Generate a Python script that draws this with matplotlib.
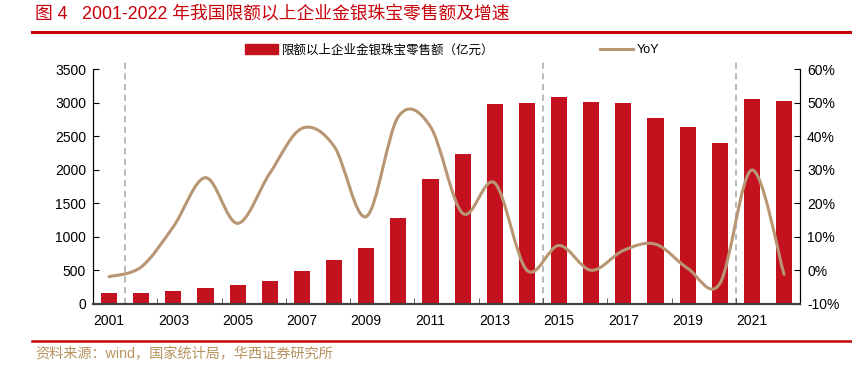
import matplotlib
matplotlib.use("Agg")
import matplotlib.pyplot as plt
from matplotlib.path import Path
from matplotlib.patches import PathPatch, Patch
from matplotlib.lines import Line2D
from matplotlib.ticker import FuncFormatter, FixedLocator
import numpy as np

plt.rcParams['font.family'] = ['Liberation Sans', 'Noto Sans CJK SC', 'DejaVu Sans']

# data
years = list(range(2001, 2023))
sales = [168, 165, 188, 236, 276, 345, 490, 650, 830, 1280, 1855, 2237,
         2972, 2988, 3076, 3006, 2988, 2774, 2630, 2397, 3057, 3026]
yoy = [-1.9, 1.0, 13.0, 27.6, 14.0, 28.9, 42.3, 37.0, 16.0, 45.8, 42.8, 17.0,
       26.0, 0.0, 7.4, 0.0, 5.9, 7.8, 0.6, -4.0, 29.9, -1.2]
tick_labels = [str(y) if (y - 2001) % 2 == 0 else '' for y in years]
divider_pos = [0.5, 13.5, 19.5]

bar_color = '#C3111E'
line_color = '#B99673'
red = '#C8000A'

fig = plt.figure(figsize=(8.53, 3.71), dpi=100)
ax = fig.add_axes([0.109, 0.181, 0.829, 0.633])
ax2 = ax.twinx()

x = np.arange(len(years))
ax.bar(x, sales, width=0.5, color=bar_color, zorder=2)
ax.set_xlim(-0.5, len(years) - 0.5)
ax.set_ylim(0, 3500)
ax.set_yticks(range(0, 3501, 500))

# smoothed line (excel style bezier through the points)
pts = np.column_stack([x, yoy]).astype(float)
ext = np.vstack([pts[0], pts, pts[-1]])
verts = [tuple(pts[0])]
codes = [Path.MOVETO]
for i in range(1, len(ext) - 2):
    p0, p1, p2, p3 = ext[i - 1], ext[i], ext[i + 1], ext[i + 2]
    c1 = p1 + (p2 - p0) / 6.0
    c2 = p2 - (p3 - p1) / 6.0
    verts += [tuple(c1), tuple(c2), tuple(p2)]
    codes += [Path.CURVE4] * 3
ax2.add_patch(PathPatch(Path(verts, codes), facecolor='none',
                        edgecolor=line_color, lw=2.2, zorder=3,
                        capstyle='round'))
ax2.set_ylim(-10, 60)
ax2.set_yticks(range(-10, 61, 10))
ax2.yaxis.set_major_formatter(FuncFormatter(lambda v, p: '%d%%' % v))

for xp in divider_pos:
    ax.axvline(xp, ymin=0, ymax=1.03, color='#A6A6A6', ls=(0, (4, 3)),
               lw=1.1, clip_on=False, zorder=1)

# x axis: labels every other year, tick marks between pairs
ax.set_xticks(x)
ax.set_xticklabels(tick_labels)
ax.tick_params(axis='x', length=0, pad=7, labelsize=10)
ax.xaxis.set_minor_locator(FixedLocator(np.arange(1.5, len(years) - 1, 2)))
ax.tick_params(axis='x', which='minor', direction='in', length=4, color='#404040')

ax.tick_params(axis='y', direction='in', length=4, labelsize=10, pad=5)
ax2.tick_params(axis='y', direction='in', length=4, labelsize=10, pad=5)

for a in (ax, ax2):
    a.spines['top'].set_visible(False)
    a.spines['left'].set_color('black')
    a.spines['right'].set_color('black')
    a.spines['bottom'].set_color('#404040')
    a.spines['bottom'].set_linewidth(1.5)

handles = [Patch(color=bar_color), Line2D([0], [0], color=line_color, lw=2.2)]
fig.legend(handles, ['限额以上企业金银珠宝零售额（亿元）', 'YoY'], loc='center',
           bbox_to_anchor=(0.53, 0.865), ncol=2, frameon=False,
           prop={'size': 9, 'weight': 'light'},
           handlelength=2.6, handleheight=0.9, columnspacing=8.5, handletextpad=0.3)

fig.text(0.041, 0.962, '图 4   2001-2022 年我国限额以上企业金银珠宝零售额及增速',
         color=red, fontsize=12.8, fontweight='light', va='center', ha='left')
fig.add_artist(Line2D([0.0375, 1.0], [0.914, 0.914], color=red, lw=2.2))
fig.add_artist(Line2D([0.0375, 1.0], [0.081, 0.081], color=red, lw=1.8))
fig.text(0.041, 0.046, '资料来源：wind，国家统计局，华西证券研究所',
         color='#B8925E', fontsize=10.2, fontweight='light', va='center', ha='left')

fig.savefig('out.png', dpi=100)
